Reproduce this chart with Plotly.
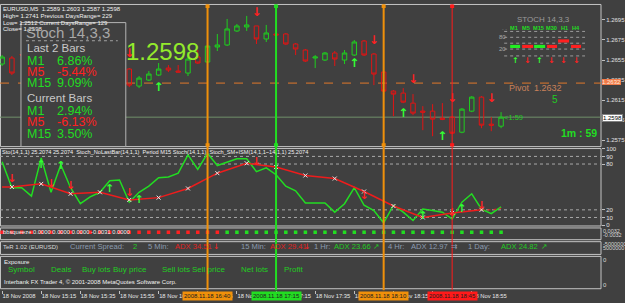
import plotly.graph_objects as go

W, H = 625, 303
PW = 602  # plot-area width in px (right axis labels live in the margin)
FONT = "Liberation Sans, Arial, sans-serif"
BG = "#404040"
BORDER = "#c4c4c4"
GREEN = "#22dd22"
RED = "#ff2020"
ORANGE = "#f0900a"
GRAYTXT = "#8c9cb0"

# ---------------- data ----------------
# bar index 0 = 18 Nov 2008 14:55, M5 bars (bars 2..12 are hidden behind the Stoch box)
bars = [0, 1, 13, 14, 15, 16, 17, 18, 19, 20, 21, 22, 23, 24, 25, 26, 27, 28, 29, 30,
        31, 32, 33, 34, 35, 36, 37, 38, 39, 40, 41, 42, 43, 44, 45, 46, 47, 48, 49, 50, 51]
opens = [1.2651, 1.2657, 1.2646, 1.2629, 1.2635, 1.2640, 1.2647, 1.2644, 1.2642, 1.2658,
         1.2653, 1.2668, 1.2670, 1.2684, 1.2688, 1.2689, 1.2676, 1.2681, 1.2681, 1.2671,
         1.2665, 1.2657, 1.2655, 1.2662, 1.2655, 1.2660, 1.2674, 1.2661, 1.2643, 1.2624,
         1.2622, 1.2612, 1.2604, 1.2604, 1.2597, 1.2598, 1.2583, 1.2604, 1.2618, 1.2591, 1.2589]
highs = [1.2660, 1.2659, 1.2647, 1.2639, 1.2644, 1.2652, 1.2650, 1.2650, 1.2663, 1.2665,
         1.2669, 1.2681, 1.2696, 1.2691, 1.2699, 1.2689, 1.2690, 1.2682, 1.2682, 1.2672,
         1.2666, 1.2660, 1.2663, 1.2664, 1.2665, 1.2675, 1.2675, 1.2662, 1.2644, 1.2625,
         1.2627, 1.2621, 1.2609, 1.2611, 1.2612, 1.2599, 1.2607, 1.2619, 1.2619, 1.2598, 1.2603]
lows = [1.2649, 1.2640, 1.2628, 1.2627, 1.2634, 1.2639, 1.2643, 1.2643, 1.2639, 1.2651,
        1.2652, 1.2664, 1.2669, 1.2683, 1.2684, 1.2671, 1.2673, 1.2679, 1.2670, 1.2660,
        1.2653, 1.2647, 1.2654, 1.2649, 1.2651, 1.2659, 1.2659, 1.2630, 1.2623, 1.2599,
        1.2612, 1.2600, 1.2585, 1.2579, 1.2595, 1.2581, 1.2582, 1.2603, 1.2587, 1.2584, 1.2587]
closes = [1.2658, 1.2642, 1.2630, 1.2637, 1.2641, 1.2646, 1.2645, 1.2643, 1.2656, 1.2652,
          1.2669, 1.2670, 1.2686, 1.2689, 1.2690, 1.2676, 1.2682, 1.2680, 1.2671, 1.2666,
          1.2654, 1.2658, 1.2662, 1.2656, 1.2662, 1.2673, 1.2660, 1.2641, 1.2624, 1.2621,
          1.2613, 1.2602, 1.2603, 1.2596, 1.2596, 1.2582, 1.2606, 1.2618, 1.2590, 1.2590, 1.2598]

sell_arrow_bars = [2, 13, 26, 38, 42, 46, 50]
sell_arrow_price = [1.2661, 1.2661, 1.2702, 1.2674, 1.2635, 1.2616, 1.2616]
buy_arrow_bars = [16, 36, 41, 45]
buy_arrow_price = [1.2627, 1.2651, 1.2601, 1.2578]

pivot = 1.2632
last_price = 1.2598
price_ticks = [1.2575, 1.2595, 1.2615, 1.2635, 1.2655, 1.2675, 1.2695]

# stochastic sub-window
stoch_fast = [83, 49, 49, 38, 88, 43, 79, 49, 28, 37, 43, 58, 59, 30, 43, 51, 62, 63, 68, 92,
              73, 94, 78, 83, 87, 87, 70, 75, 66, 51, 45, 29, 29, 29, 17, 28, 49, 26, 19, 3,
              26, 17, 6, 21, 19, 17, 8, 30, 41, 21, 15, 24]
stoch_m15_bars = [0, 1, 4, 7, 10, 13, 16, 19, 22, 25, 28, 31, 34, 37, 40, 43, 46, 49]
stoch_m15 = [50, 50, 54, 41, 43, 33, 36, 48, 68, 81, 76, 65, 61, 44, 25, 10, 16, 20]
stoch_tail_bars = [49, 50, 51]
stoch_tail = [20, 20, 22]
st_dn_bars = [1, 5, 7, 13, 26, 37, 46, 49]
st_dn_vals = [60, 53, 51, 42, 82, 38, 16, 25]
st_up_bars = [4, 6, 11, 14, 43, 47]
st_up_vals = [79, 77, 47, 32, 11, 21]
stoch_levels = [10, 20, 80, 90]
stoch_ticks = [0, 10, 20, 80, 90, 100]

# bbsqueeze dots
bb_bars = list(range(52))
bb_colors = [RED] * 23 + [GREEN] * 29

# time axis
time_tick_bars = [0, 4, 8, 12, 16, 20, 24, 28, 32, 36, 40, 44, 48]
time_tick_text = ["18 Nov 2008", "18 Nov 15:15", "18 Nov 15:35", "18 Nov 15:55", "18 Nov 16:15",
                  "18 Nov 16:35", "18 Nov 16:55", "18 Nov 17:15", "18 Nov 17:35", "18 Nov 17:55",
                  "18 Nov 18:15", "18 Nov 18:35", "18 Nov 18:55"]
vlines = [(21, ORANGE, 2, "2008.11.18 16:40"), (28, "#22dd22", 2, "2008.11.18 17:15"),
          (39, ORANGE, 2, "2008.11.18 18:10"), (46, "#ff1a1a", 1, "2008.11.18 18:45")]

# ---------------- geometry helpers ----------------
def PX(x):
    return x / PW

def PY(y):
    return 1 - y / H

def p_at(py):  # price at a pixel row of the main window
    return 1.27119 - 0.0000978 * py

X0, XSTEP = 2.1, 9.8
xr = [-X0 / XSTEP, (PW - X0) / XSTEP]

fig = go.Figure()

# candles
fig.add_trace(go.Candlestick(
    x=bars, open=opens, high=highs, low=lows, close=closes,
    increasing=dict(line=dict(color="#1fcc1f", width=1), fillcolor="rgba(0,0,0,0)"),
    decreasing=dict(line=dict(color="#e01414", width=1), fillcolor="rgba(0,0,0,0)"),
    xaxis="x", yaxis="y", hoverinfo="skip", showlegend=False))

fig.add_trace(go.Scatter(x=sell_arrow_bars, y=sell_arrow_price, mode="text",
                         text=["<b>↓</b>"] * len(sell_arrow_bars),
                         textfont=dict(color=RED, size=12, family="DejaVu Sans"),
                         yaxis="y", showlegend=False, hoverinfo="skip"))
fig.add_trace(go.Scatter(x=buy_arrow_bars, y=buy_arrow_price, mode="text",
                         text=["<b>↑</b>"] * len(buy_arrow_bars),
                         textfont=dict(color="#33ff33", size=12, family="DejaVu Sans"),
                         yaxis="y", showlegend=False, hoverinfo="skip"))

# vertical-line anchor squares
for b, c, w, _ in vlines:
    fig.add_trace(go.Scatter(x=[b, b], y=[p_at(3), p_at(145)], mode="markers",
                             marker=dict(symbol="square", size=4, color=c),
                             yaxis="y", showlegend=False, hoverinfo="skip"))

# stochastic
fig.add_trace(go.Scatter(x=list(range(len(stoch_fast))), y=stoch_fast, mode="lines",
                         line=dict(color="#22dd22", width=1.5), yaxis="y2",
                         showlegend=False, hoverinfo="skip"))
fig.add_trace(go.Scatter(x=stoch_m15_bars, y=stoch_m15, mode="lines",
                         line=dict(color="#ee1c1c", width=1.5), yaxis="y2",
                         showlegend=False, hoverinfo="skip"))
fig.add_trace(go.Scatter(x=stoch_tail_bars, y=stoch_tail, mode="lines",
                         line=dict(color="#ee1c1c", width=1, dash="dot"), yaxis="y2",
                         showlegend=False, hoverinfo="skip"))
fig.add_trace(go.Scatter(x=stoch_m15_bars[1:], y=stoch_m15[1:], mode="markers",
                         marker=dict(symbol="x-thin", size=4, line=dict(color="#e8e8e8", width=1)),
                         yaxis="y2", showlegend=False, hoverinfo="skip"))
fig.add_trace(go.Scatter(x=st_dn_bars, y=st_dn_vals, mode="text",
                         text=["<b>↓</b>"] * len(st_dn_bars),
                         textfont=dict(color=RED, size=11, family="DejaVu Sans"),
                         yaxis="y2", showlegend=False, hoverinfo="skip"))
fig.add_trace(go.Scatter(x=st_up_bars, y=st_up_vals, mode="text",
                         text=["<b>↑</b>"] * len(st_up_bars),
                         textfont=dict(color="#33ff33", size=11, family="DejaVu Sans"),
                         yaxis="y2", showlegend=False, hoverinfo="skip"))

# bbsqueeze dots
fig.add_trace(go.Scatter(x=bb_bars, y=[0] * len(bb_bars), mode="markers",
                         marker=dict(symbol="square", size=3.5, color=bb_colors),
                         yaxis="y3", showlegend=False, hoverinfo="skip"))

# ---------------- shapes ----------------
shapes = []

def rect(x0, y0, x1, y1, line=BORDER, fill=None, layer="below", width=1, dash=None):
    shapes.append(dict(type="rect", xref="paper", yref="paper",
                       x0=PX(x0), x1=PX(x1), y0=PY(y1), y1=PY(y0),
                       line=dict(color=line, width=width, dash=dash) if line else dict(width=0),
                       fillcolor=fill or "rgba(0,0,0,0)", layer=layer))

def hline_px(y, x0, x1, color, width=1, dash=None, layer="below"):
    shapes.append(dict(type="line", xref="paper", yref="paper", x0=PX(x0), x1=PX(x1),
                       y0=PY(y), y1=PY(y), line=dict(color=color, width=width, dash=dash),
                       layer=layer))

# sub-window frames
rect(0.5, 1.5, PW, 146.5)
rect(0.5, 148.5, PW, 227.5)
rect(0.5, 229.5, PW, 241.5)
rect(0.5, 243.5, PW, 256.5)
rect(0.5, 258.5, PW, 291.5)

# pivot + current price lines (data coords)
shapes.append(dict(type="line", xref="paper", yref="y", x0=0, x1=1, y0=pivot, y1=pivot,
                   line=dict(color="#e0782a", width=1, dash="dash"), layer="below"))
shapes.append(dict(type="line", xref="paper", yref="y", x0=0, x1=1, y0=last_price, y1=last_price,
                   line=dict(color="#6f8f6a", width=1), layer="below"))

# stochastic levels
for lv in stoch_levels:
    shapes.append(dict(type="line", xref="paper", yref="y2", x0=0, x1=1, y0=lv, y1=lv,
                       line=dict(color="#a8a8a8", width=1, dash="dot"), layer="below"))

# Stoch info box (opaque)
rect(21, 20, 126, 146.5, line="#b4b4b4", fill=BG, layer="above")
hline_px(38.5, 26, 118, "#a0a0a0", 1, "dot", layer="above")

# vertical lines
for b, c, w, _ in vlines:
    shapes.append(dict(type="line", xref="x", yref="paper", x0=b, x1=b, y0=PY(293), y1=PY(1.5),
                       line=dict(color=c, width=w), layer="above"))

# mini STOCH table (top right)
for yy in [29, 35, 41, 47, 54]:
    hline_px(yy, 505, 586, "#9a9a9a", 1, "dot", layer="above")
mini_bars = [(511, 521, 44.3, "#22ee22"), (523, 534, 44.3, RED), (535, 546, 44.3, "#22ee22"),
             (548, 558, 44.3, RED), (559, 570, 38.7, RED), (572, 582, 44.3, RED)]
for x0, x1, yc, c in mini_bars:
    rect(x0, yc - 1.6, x1, yc + 1.6, line=None, fill=c, layer="above")

# ---------------- annotations ----------------
ann = []

def txt(x, y, s, color, size, anchor="left", bold=False, family=FONT, bg=None, border=None):
    ann.append(dict(x=PX(x), y=PY(y), xref="paper", yref="paper",
                    text=("<b>%s</b>" % s) if bold else s, showarrow=False,
                    xanchor=anchor, yanchor="middle",
                    font=dict(color=color, size=size, family=family),
                    bgcolor=bg, bordercolor=border, borderwidth=1 if border else 0,
                    borderpad=0))

# header
WH = "#f0f0f0"
txt(3, 6, "EURUSD,M5  1.2589 1.2603 1.2587 1.2598", WH, 6)
txt(3, 13, "High= 1.2741 Previous DaysRange= 229", WH, 6)
txt(3, 20, "Low= 1.2512 Current DaysRange= 129", WH, 6)
txt(3, 27, "Close= 1.2598", WH, 6)

# box content
txt(26, 30, "Stoch 14,3,3", "#a8a8a8", 15)
txt(27, 45.5, "Last 2 Bars", "#c8c8c8", 11.5)
rows = [(59.5, "M1", "6.86%", GREEN), (70.5, "M5", "-5.44%", RED), (81.5, "M15", "9.09%", GREEN),
        (110, "M1", "2.94%", GREEN), (121.5, "M5", "-6.13%", RED), (133.5, "M15", "3.50%", GREEN)]
for yy, lab, val, c in rows:
    txt(27, yy, lab, c, 12.5)
    txt(57, yy, val, c, 12.5)
txt(27, 97, "Current Bars", "#c8c8c8", 11.5)

txt(126, 49, "1.2598", "#93ea2c", 24)

# mini stoch table text
txt(518, 17, "STOCH 14,3,3", "#9a9a9a", 8)
txt(503, 25, ". .", "#9a9a9a", 6)
for xx, lab in [(511, "M1"), (522.5, "M5"), (533.5, "M15"), (546.5, "M30"), (561.5, "H1"), (572.5, "H4")]:
    txt(xx, 25, lab, GREEN, 5.6, bold=True)
txt(500, 35, "80", "#a8a8a8", 6)
txt(500, 47, "20", "#a8a8a8", 6)
for xx, up in [(516, True), (528, False), (540, True), (552, False), (564.5, False), (577, False)]:
    txt(xx, 59, "<b>↑</b>" if up else "<b>↓</b>", "#33ff33" if up else RED, 8,
        anchor="center", family="DejaVu Sans")

txt(510, 87, "Pivot  1.2632", "#c8805a", 9)
txt(553, 98.5, "5", "#22cc22", 10)
txt(505, 117, "&lt;1:59", "#22cc22", 7.5)
txt(562, 133, "1m : 59", "#22dd22", 10.5, bold=True)

# right-axis special labels
txt(603, 81, "1.2632", "#ffe8dc", 6, bg="#f07a48")
txt(603, 117, "1.2598", "#000000", 6, bg="#ffffff", border="#808080")
txt(604, 232.5, "0.0032", "#d8d8d8", 5.5)
txt(604, 236.5, "-0.0032", "#d8d8d8", 5.5)
txt(604, 246, "-5000000", "#d8d8d8", 5.5)
txt(604, 250, "5000000", "#d8d8d8", 5.5)
txt(604, 262, "0", "#d8d8d8", 6)
txt(604, 288, "0", "#d8d8d8", 6)

# sub-window captions
txt(2, 152, "Sto(14,1,1) 25.2074 25.2074  Stoch_NoLastBar(14,1,1)  Period M15 Stoch(14,1,1)  "
    "Stoch_SM+ISM(14,1,1~14,1,1) 25.2074", WH, 5.6)
txt(3, 234, "bbsqueeze 0.0000 0.0000 0.0000 -0.0031 0.0000", WH, 5.8)

# TeR line
ty = 248.5
TS = 7.6
txt(3, ty, "TeR 1.02 (EURUSD)", "#d8d8d8", 6)
txt(70, ty, "Current Spread:", GRAYTXT, TS)
txt(133, ty, "2", "#22cc22", TS)
txt(148, ty, "5 Min:", GRAYTXT, TS)
txt(175, ty, "ADX 34.51", "#e02020", TS)
txt(216, ty, "↓", RED, TS, anchor="center", family="DejaVu Sans")
txt(241, ty, "15 Min:", GRAYTXT, TS)
txt(270, ty, "ADX 29.41", "#e02020", TS)
txt(308, ty, "↓", RED, TS, anchor="center", family="DejaVu Sans")
txt(315, ty, "1 Hr:", GRAYTXT, TS)
txt(335, ty, "ADX 23.66", "#22cc22", TS)
txt(377, ty, "↗", "#22cc22", TS, anchor="center", family="DejaVu Sans")
txt(389, ty, "4 Hr:", GRAYTXT, TS)
txt(412, ty, "ADX 12.97", GRAYTXT, TS)
txt(455, ty, "⇉", GRAYTXT, TS, anchor="center", family="DejaVu Sans")
txt(469, ty, "1 Day:", GRAYTXT, TS)
txt(502, ty, "ADX 24.82", "#22cc22", TS)
txt(545, ty, "↗", "#22cc22", TS, anchor="center", family="DejaVu Sans")

# Exposure window
txt(4, 264, "Exposure", WH, 6)
for xx, lab in [(8, "Symbol"), (51, "Deals"), (82, "Buy lots"), (113, "Buy price"), (162, "Sell lots"),
                (192, "Sell price"), (241, "Net lots"), (284, "Profit")]:
    txt(xx, 272, lab, "#22cc22", 8)
txt(4, 285, "Interbank FX Trader 4, © 2001-2008 MetaQuotes Software Corp.", WH, 6)

# time-axis labels of the vertical lines
for b, c, w, lab in vlines:
    ann.append(dict(x=b, y=PY(298.5), xref="x", yref="paper", text=lab, showarrow=False,
                    xanchor="center", yanchor="middle",
                    font=dict(color="#202020", size=6, family=FONT),
                    bgcolor=c, borderpad=1))

# ---------------- layout ----------------
fig.update_layout(
    width=W, height=H, margin=dict(l=0, r=W - PW, t=0, b=0),
    paper_bgcolor=BG, plot_bgcolor=BG, showlegend=False, hovermode=False,
    boxgap=0.35,
    xaxis=dict(range=xr, anchor="free", position=PY(292.5), showgrid=False, zeroline=False,
               showline=False, rangeslider=dict(visible=False),
               tickmode="array", tickvals=time_tick_bars, ticktext=time_tick_text,
               ticks="outside", ticklen=3, tickcolor="#c0c0c0", tickangle=0,
               ticklabelposition="outside right",
               tickfont=dict(size=5.8, color="#e8e8e8", family=FONT)),
    yaxis=dict(domain=[PY(146.5), PY(1.5)], range=[p_at(146.5), p_at(1.5)],
               side="right", anchor="x", showgrid=False, zeroline=False, showline=False,
               tickmode="array", tickvals=price_ticks, ticktext=["%.4f" % v for v in price_ticks],
               ticks="outside", ticklen=3, tickcolor="#c0c0c0",
               tickfont=dict(size=6, color="#e0e0e0", family=FONT)),
    yaxis2=dict(domain=[PY(226.6), PY(148.7)], range=[0, 100], side="right", anchor="x",
                showgrid=False, zeroline=False, showline=False,
                tickmode="array", tickvals=stoch_ticks, ticktext=[str(v) for v in stoch_ticks],
                ticks="outside", ticklen=3, tickcolor="#c0c0c0",
                tickfont=dict(size=6, color="#e0e0e0", family=FONT)),
    yaxis3=dict(domain=[PY(238), PY(230)], range=[-1, 1], anchor="x", visible=False),
    shapes=shapes, annotations=ann,
)

fig.write_html("out.html")
